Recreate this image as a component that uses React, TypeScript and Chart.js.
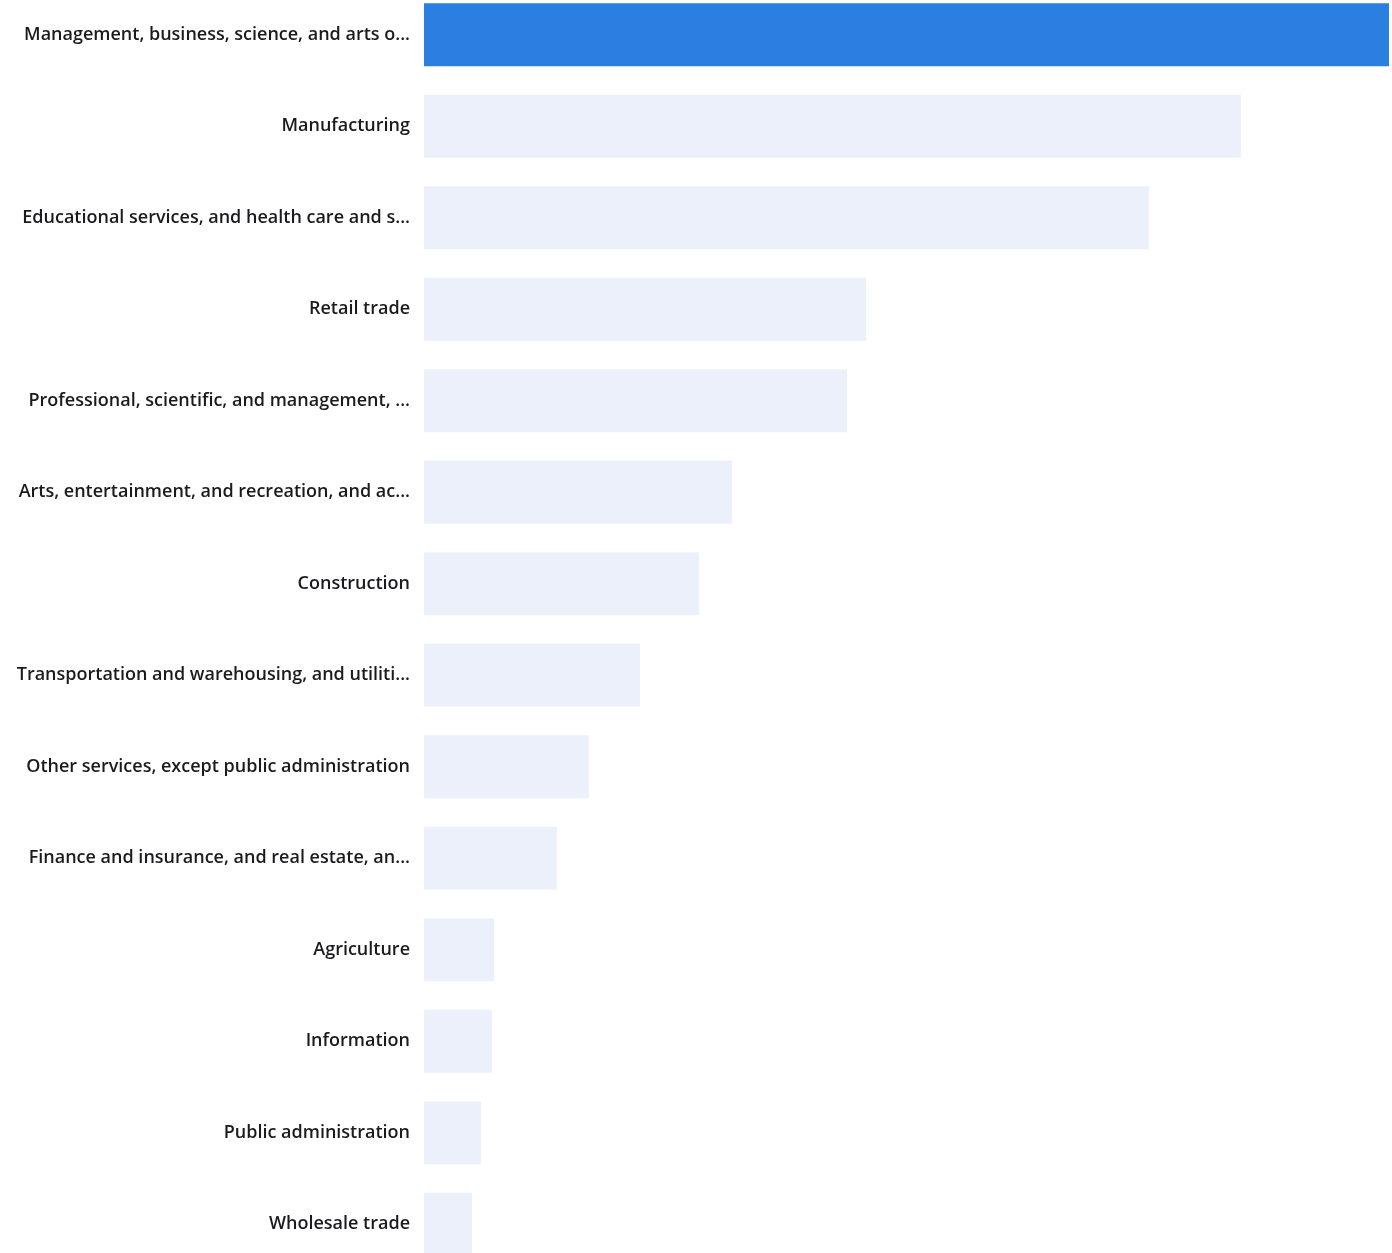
import React, { useEffect, useRef } from "react";
import { Chart, registerables } from "chart.js";

Chart.register(...registerables);

const categories = [
  "Management, business, science, and arts o...",
  "Manufacturing",
  "Educational services, and health care and s...",
  "Retail trade",
  "Professional, scientific, and management, ...",
  "Arts, entertainment, and recreation, and ac...",
  "Construction",
  "Transportation and warehousing, and utiliti...",
  "Other services, except public administration",
  "Finance and insurance, and real estate, an...",
  "Agriculture",
  "Information",
  "Public administration",
  "Wholesale trade",
];

const values = [965, 817, 725, 442, 423, 308, 275, 216, 165, 133, 70, 68, 57, 48];

const HIGHLIGHT = "#2A7FE0";
const MUTED = "#ECF0FA";

export default function App() {
  const ref = useRef<HTMLCanvasElement | null>(null);

  useEffect(() => {
    if (!ref.current) return;
    const chart = new Chart(ref.current, {
      type: "bar",
      data: {
        labels: categories,
        datasets: [
          {
            data: values,
            backgroundColor: values.map((_, i) => (i === 0 ? HIGHLIGHT : MUTED)),
            borderWidth: 0,
            barPercentage: 0.69,
            categoryPercentage: 1,
          },
        ],
      },
      options: {
        indexAxis: "y",
        animation: false,
        responsive: true,
        maintainAspectRatio: false,
        layout: { padding: { left: 0, right: 3, top: 0, bottom: 0 } },
        plugins: { legend: { display: false }, tooltip: { enabled: false } },
        scales: {
          x: {
            display: false,
            min: 0,
            max: values[0],
          },
          y: {
            grid: { display: false, drawTicks: false },
            border: { display: false },
            ticks: {
              autoSkip: false,
              padding: 14,
              color: "#1b1b1f",
              font: { family: "'Open Sans'", size: 18, weight: 600 },
            },
            afterFit: (scale: any) => {
              scale.width = 424;
              scale.paddingTop = 0;
              scale.paddingBottom = 0;
            },
          },
        },
      },
    });
    return () => chart.destroy();
  }, []);

  return (
    <div style={{ position: "absolute", left: 0, top: -11, width: 1392, height: 1281 }}>
      <canvas ref={ref} />
    </div>
  );
}
